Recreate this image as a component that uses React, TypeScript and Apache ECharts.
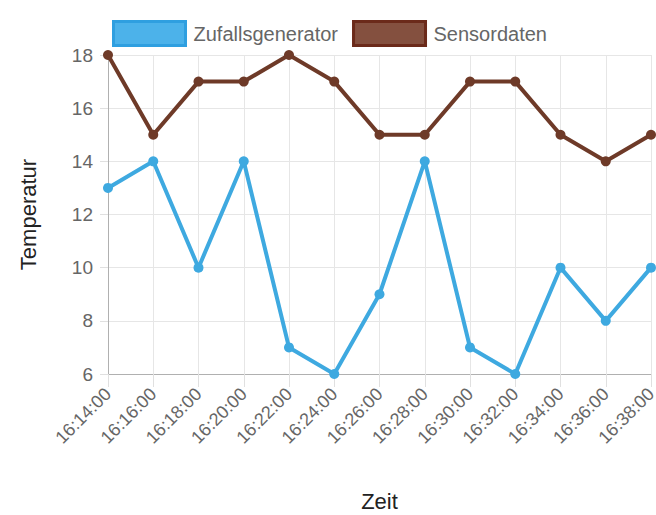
import React, { useEffect, useRef } from "react";
import * as echarts from "echarts";

const categories = ["16:14:00", "16:16:00", "16:18:00", "16:20:00", "16:22:00", "16:24:00", "16:26:00", "16:28:00", "16:30:00", "16:32:00", "16:34:00", "16:36:00", "16:38:00"];
const zufallsgenerator = [13, 14, 10, 14, 7, 6, 9, 14, 7, 6, 10, 8, 10];
const sensordaten = [18, 15, 17, 17, 18, 17, 15, 15, 17, 17, 15, 14, 15];
const yMin = 6;
const yMax = 18;
const yInterval = 2;

const FONT = "'Liberation Sans', Arial, Helvetica, sans-serif";

export default function App() {
  const ref = useRef<HTMLDivElement>(null);
  useEffect(() => {
    if (!ref.current) return;
    const chart = echarts.init(ref.current, null, { renderer: "svg" });
    chart.setOption({
      animation: false,
      textStyle: { fontFamily: FONT },
      legend: {
        top: 15,
        left: 107,
        icon: "rect",
        itemWidth: 72,
        itemHeight: 24,
        itemGap: 14,
        textStyle: { fontSize: 20, color: "#666", fontFamily: FONT, padding: [0, 0, 0, 3] },
        data: [
          { name: "Zufallsgenerator", itemStyle: { color: "#4cb2ea", borderColor: "#2f9fe0", borderWidth: 3 } },
          { name: "Sensordaten", itemStyle: { color: "#84503f", borderColor: "#6b2a1a", borderWidth: 3 } },
        ],
      },
      grid: { left: 108, right: 5, top: 55, bottom: 141, containLabel: false, outerBoundsMode: "none" },
      xAxis: {
        type: "category",
        data: categories,
        boundaryGap: false,
        name: "Zeit",
        nameLocation: "middle",
        nameGap: 116,
        nameTextStyle: { fontSize: 22, color: "#222", fontFamily: FONT },
        axisLine: { show: true, lineStyle: { color: "#b0b0b0" } },
        axisTick: { show: true, length: 13, alignWithLabel: true, lineStyle: { color: "#e0e0e0" } },
        axisLabel: { rotate: 45, fontSize: 18, color: "#666", margin: 17, fontFamily: FONT },
        splitLine: { show: true, lineStyle: { color: "#e6e6e6" } },
      },
      yAxis: {
        type: "value",
        min: yMin,
        max: yMax,
        interval: yInterval,
        name: "Temperatur",
        nameLocation: "middle",
        nameGap: 69,
        nameRotate: 90,
        nameTextStyle: { fontSize: 22, color: "#222", fontFamily: FONT },
        axisLine: { show: true, lineStyle: { color: "#b0b0b0" } },
        axisTick: { show: true, length: 8, lineStyle: { color: "#e0e0e0" } },
        axisLabel: { fontSize: 19, color: "#666", margin: 15, fontFamily: FONT },
        splitLine: { show: true, lineStyle: { color: "#e6e6e6" } },
      },
      series: [
        {
          name: "Zufallsgenerator",
          type: "line",
          data: zufallsgenerator,
          symbol: "circle",
          symbolSize: 10,
          itemStyle: { color: "#3ea9e0" },
          lineStyle: { color: "#3ea9e0", width: 4 },
        },
        {
          name: "Sensordaten",
          type: "line",
          data: sensordaten,
          symbol: "circle",
          symbolSize: 10,
          itemStyle: { color: "#6e3a28" },
          lineStyle: { color: "#6e3a28", width: 4 },
        },
      ],
    });
    return () => chart.dispose();
  }, []);
  return <div ref={ref} style={{ width: 656, height: 515, position: "absolute", left: 0, top: 0 }} />;
}
